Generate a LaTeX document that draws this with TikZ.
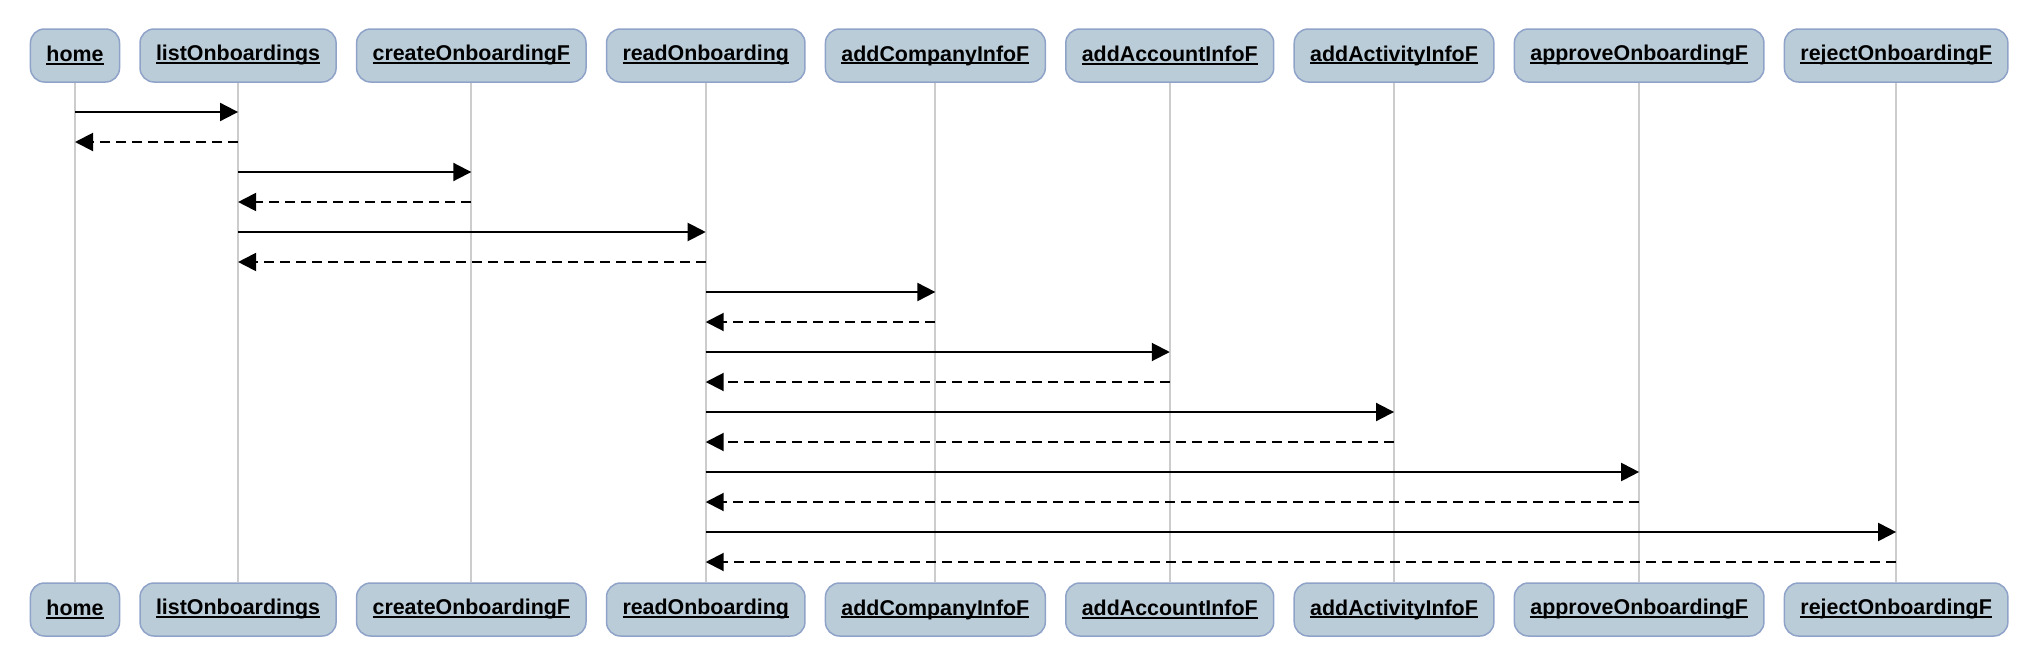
\documentclass[tikz,border=0pt]{standalone}
\usepackage{fontspec}
\setmainfont{Liberation Sans}
\usetikzlibrary{positioning, arrows.meta}

\definecolor{actorfill}{HTML}{BBCCD9}
\definecolor{actorborder}{HTML}{8FA3C8}
\definecolor{lifegray}{HTML}{CCCCCC}

% underlined label, rule just under the baseline
\newcommand{\uname}[1]{\setbox0\hbox{#1}\rlap{\rule[-2.6pt]{\wd0}{1.8pt}}\box0}

\begin{document}
\begin{tikzpicture}[
    x=1pt, y=-1pt,
    actor/.style={
        draw=actorborder, fill=actorfill, line width=1.5pt,
        rounded corners=14pt, minimum height=53pt, inner xsep=16pt,
        font=\fontsize{21.4pt}{25pt}\selectfont\bfseries
    },
    lifeline/.style={draw=lifegray, line width=2pt},
    msg/.style={-{Triangle[length=18pt,width=18pt]}, line width=2pt},
    ret/.style={msg, dash pattern=on 10pt off 6pt}
]
\useasboundingbox (0,0) rectangle (2040,656);

% Participants (top)
\node[actor] (home) at (75,55.5) {\uname{home}};
\node[actor, right=19pt of home] (list) {\uname{listOnboardings}};
\node[actor, right=19pt of list] (create) {\uname{createOnboardingF}};
\node[actor, right=19pt of create] (read) {\uname{readOnboarding}};
\node[actor, right=19pt of read] (company) {\uname{addCompanyInfoF}};
\node[actor, right=19pt of company] (account) {\uname{addAccountInfoF}};
\node[actor, right=19pt of account] (activity) {\uname{addActivityInfoF}};
\node[actor, right=19pt of activity] (approve) {\uname{approveOnboardingF}};
\node[actor, right=19pt of approve] (reject) {\uname{rejectOnboardingF}};

% Participants (bottom) and lifelines
\foreach \n/\t in {home/home, list/listOnboardings, create/createOnboardingF,
    read/readOnboarding, company/addCompanyInfoF, account/addAccountInfoF,
    activity/addActivityInfoF, approve/approveOnboardingF, reject/rejectOnboardingF} {
    \node[actor] (\n-b) at (\n |- 0,609.5) {\uname{\t}};
    \draw[lifeline] (\n.south) -- (\n-b.north);
}

% Messages
\foreach \a/\b/\s [count=\i] in {home/list/msg, list/home/ret,
    list/create/msg, create/list/ret, list/read/msg, read/list/ret,
    read/company/msg, company/read/ret, read/account/msg, account/read/ret,
    read/activity/msg, activity/read/ret, read/approve/msg, approve/read/ret,
    read/reject/msg, reject/read/ret} {
    \pgfmathsetmacro\yy{82+30*\i}
    \draw[\s] (\a |- 0,\yy) -- (\b |- 0,\yy);
}

\end{tikzpicture}
\end{document}
